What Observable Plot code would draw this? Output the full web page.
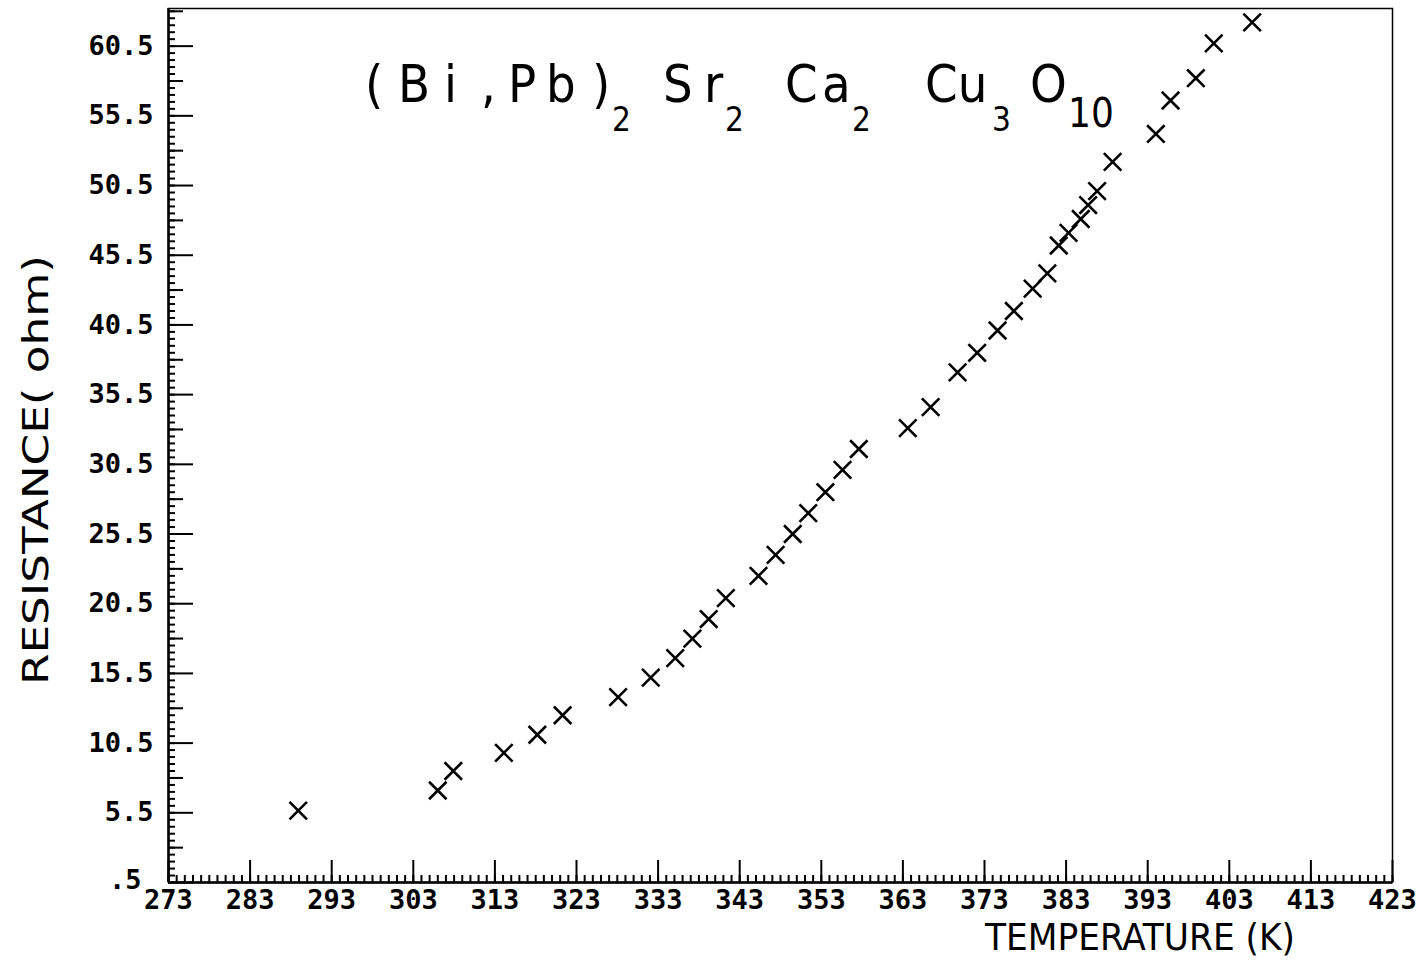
<!DOCTYPE html>
<html>
<head>
<meta charset="utf-8">
<script src="https://cdn.jsdelivr.net/npm/d3@7"></script>
<script src="https://cdn.jsdelivr.net/npm/@observablehq/plot@0.6"></script>
<style>
  html, body { margin: 0; padding: 0; background: #fff; }
  #chart { width: 1419px; height: 963px; overflow: hidden; }
</style>
</head>
<body>
<div id="chart"></div>
<script>
// Data
const temperatureK = [288.9, 306.0, 307.9, 314.1, 318.2, 321.3, 328.1, 332.1, 335.1, 337.2, 339.2, 341.3, 345.3, 347.4, 349.5, 351.4, 353.5, 355.6, 357.6, 363.6, 366.4, 369.7, 372.1, 374.6, 376.6, 378.9, 380.7, 382.1, 383.3, 384.8, 385.7, 386.8, 388.7, 394.0, 395.8, 398.9, 401.1, 405.8];
const resistanceOhm = [5.66, 7.1, 8.5, 9.8, 11.1, 12.5, 13.8, 15.2, 16.6, 18.0, 19.4, 20.9, 22.5, 24.0, 25.5, 27.0, 28.5, 30.1, 31.6, 33.1, 34.6, 37.1, 38.5, 40.1, 41.5, 43.1, 44.2, 46.2, 47.1, 48.1, 49.1, 50.1, 52.2, 54.2, 56.6, 58.2, 60.7, 62.2];

const xMajorTicks = [273, 283, 293, 303, 313, 323, 333, 343, 353, 363, 373, 383, 393, 403, 413, 423];
const xMinorTicks = d3.range(273, 423.5, 1);
const yMajorTicks = [0.5, 5.5, 10.5, 15.5, 20.5, 25.5, 30.5, 35.5, 40.5, 45.5, 50.5, 55.5, 60.5];
const yMediumTicks = [3, 8, 13, 18, 23, 28, 33, 38, 43, 48, 53, 58, 63];
const yMinorTicks = d3.range(0.5, 63.1, 0.5);

const xLabel = "TEMPERATURE (K)";
const yLabel = "RESISTANCE( ohm)";

const points = temperatureK.map((t, i) => ({t, r: resistanceOhm[i]}));

const tickFont = "'DejaVu Sans Mono', 'Liberation Mono', monospace";
const yFmt = d => d === 0.5 ? ".5" : d.toFixed(1);

const chart = Plot.plot({
  width: 1419,
  height: 963,
  marginLeft: 168,
  marginRight: 27,
  marginTop: 8,
  marginBottom: 81,
  style: {background: "#fff", color: "#000"},
  x: {domain: [273, 423], label: null},
  y: {domain: [0.5, 63.2], label: null},
  marks: [
    Plot.frame({stroke: "#000", strokeWidth: 1.5}),
    // inward tick marks
    Plot.axisY(yMinorTicks, {anchor: "left", tickSize: -7, tickFormat: () => "", label: null, strokeWidth: 2}),
    Plot.axisY(yMediumTicks, {anchor: "left", tickSize: -15, tickFormat: () => "", label: null, strokeWidth: 2}),
    Plot.axisY(yMajorTicks, {anchor: "left", tickSize: -25, tickFormat: () => "", label: null, strokeWidth: 2}),
    Plot.axisX(xMinorTicks, {anchor: "bottom", tickSize: -7, tickFormat: () => "", label: null, strokeWidth: 2}),
    Plot.axisX(xMajorTicks, {anchor: "bottom", tickSize: -22, tickFormat: () => "", label: null, strokeWidth: 2}),
    // tick labels
    Plot.axisY(yMajorTicks.slice(1), {anchor: "left", tickSize: 0, tickPadding: 15, tickFormat: yFmt, label: null,
      fontSize: 27, fontWeight: "bold", fontFamily: tickFont}),
    Plot.axisY(yMajorTicks.slice(0, 1), {anchor: "left", tickSize: 0, tickPadding: 27, dy: -2, tickFormat: yFmt, label: null,
      fontSize: 27, fontWeight: "bold", fontFamily: tickFont}),
    Plot.axisX(xMajorTicks, {anchor: "bottom", tickSize: 0, tickPadding: 7, tickFormat: d => String(d), label: null,
      fontSize: 27, fontWeight: "bold", fontFamily: tickFont}),
    Plot.ruleX([273], {stroke: "#000", strokeWidth: 2.5}),
    Plot.ruleY([0.5], {stroke: "#000", strokeWidth: 2.5}),
    // data
    Plot.dot(points, {x: "t", y: "r", symbol: "times", r: 8, stroke: "#000", strokeWidth: 2.6})
  ]
});

const svg = d3.select(chart);
const labelFont = "'DejaVu Sans Condensed', 'DejaVu Sans', sans-serif";

// axis titles
svg.append("text")
  .attr("transform", "translate(48,470) rotate(-90)")
  .attr("text-anchor", "middle")
  .attr("font-family", labelFont)
  .attr("font-weight", 300)
  .attr("font-size", 36)
  .attr("textLength", 430)
  .attr("lengthAdjust", "spacingAndGlyphs")
  .attr("fill", "#000")
  .text(yLabel);

svg.append("text")
  .attr("x", 985)
  .attr("y", 950)
  .attr("text-anchor", "start")
  .attr("font-family", labelFont)
  .attr("font-weight", 300)
  .attr("font-size", 38)
  .attr("textLength", 310)
  .attr("lengthAdjust", "spacingAndGlyphs")
  .attr("fill", "#000")
  .text(xLabel);

// chemical formula title
const formula = [
  {s: "(", x: 365, sub: 0}, {s: "B", x: 398, sub: 0}, {s: "i", x: 444, sub: 0},
  {s: ",", x: 481, sub: 0}, {s: "P", x: 508, sub: 0}, {s: "b", x: 546, sub: 0},
  {s: ")", x: 592, sub: 0}, {s: "2", x: 612, sub: 1},
  {s: "S", x: 663, sub: 0}, {s: "r", x: 704, sub: 0}, {s: "2", x: 725, sub: 1},
  {s: "C", x: 785, sub: 0}, {s: "a", x: 822, sub: 0}, {s: "2", x: 852, sub: 1},
  {s: "Cu", x: 925, sub: 0}, {s: "3", x: 992, sub: 1},
  {s: "O", x: 1030, sub: 0}, {s: "10", x: 1068, sub: 2}
];
const title = svg.append("text")
  .attr("text-anchor", "start")
  .attr("font-family", labelFont)
  .attr("font-weight", 300)
  .attr("fill", "#000");
formula.forEach(f => {
  title.append("tspan")
    .attr("x", f.x)
    .attr("y", f.sub === 0 ? 102 : f.sub === 1 ? 131 : 127)
    .attr("font-size", f.sub === 0 ? 52 : f.sub === 1 ? 33 : 40)
    .text(f.s);
});

document.getElementById("chart").appendChild(chart);
</script>
</body>
</html>
